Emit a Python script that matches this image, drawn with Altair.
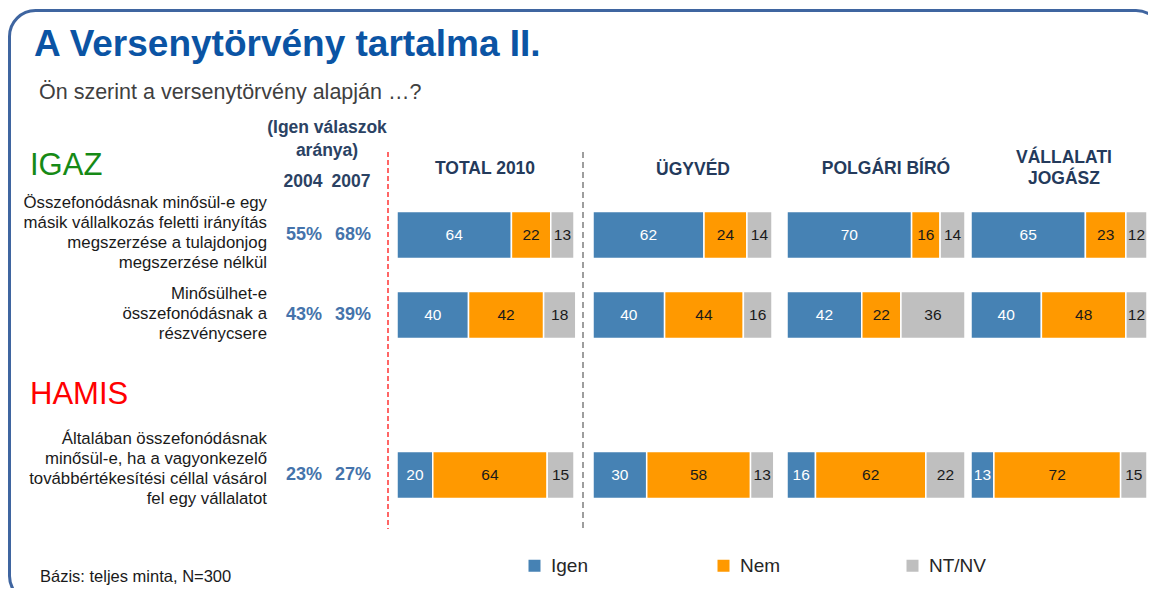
import altair as alt
import pandas as pd

# ---------------- data ----------------
panels = ["TOTAL 2010", "ÜGYVÉD", "POLGÁRI BÍRÓ", "VÁLLALATI\nJOGÁSZ"]
answers = ["Igen", "Nem", "NT/NV"]
row_pos = [0, 1, 3]
questions = [
    "Összefonódásnak minősül-e egy\nmásik vállalkozás feletti irányítás\nmegszerzése a tulajdonjog\nmegszerzése nélkül",
    "Minősülhet-e\nösszefonódásnak a\nrészvénycsere",
    "Általában összefonódásnak\nminősül-e, ha a vagyonkezelő\ntovábbértékesítési céllal vásárol\nfel egy vállalatot",
]
pct_2004 = ["55%", "43%", "23%"]
pct_2007 = ["68%", "39%", "27%"]
# per panel, per row
igen = [[64, 40, 20], [62, 40, 30], [70, 42, 16], [65, 40, 13]]
nem = [[22, 42, 64], [24, 44, 58], [16, 22, 62], [23, 48, 72]]
ntnv = [[13, 18, 15], [14, 16, 13], [14, 36, 22], [12, 12, 15]]

title_text = "A Versenytörvény tartalma II."
subtitle_text = "Ön szerint a versenytörvény alapján …?"
igaz_text = "IGAZ"
hamis_text = "HAMIS"
hdr_text = "(Igen válaszok\naránya)"
years = ["2004", "2007"]
footnote = "Bázis: teljes minta, N=300"

# ---------------- build tables ----------------
vals = {"Igen": igen, "Nem": nem, "NT/NV": ntnv}
recs = []
for pi, p in enumerate(panels):
    for ri, pos in enumerate(row_pos):
        for ai, a in enumerate(answers):
            recs.append({"panel": p, "pos": pos, "answer": a, "order": ai,
                         "value": vals[a][pi][ri]})
df = pd.DataFrame(recs)
qdf = pd.DataFrame({"pos": row_pos, "q": questions, "p04": pct_2004, "p07": pct_2007,
                    "qi": list(range(len(questions)))})

# ---------------- layout ----------------
OX, OY = 8, 9  # page position of plot origin
FONT = "Liberation Sans"
BLUE, ORANGE, GRAY = "#4682B4", "#FF9900", "#BFBFBF"
NAVY = "#243A5B"


def px(x):
    return x - OX


def py(y):
    return y - OY


yscale = alt.Scale(domain=[0, 3], range=[py(235), py(475)], zero=False, nice=False, padding=0)
color_scale = alt.Scale(domain=answers, range=[BLUE, ORANGE, GRAY])
legend = alt.Legend(orient="none", legendX=px(525), legendY=py(556), direction="horizontal",
                    title=None, symbolType="square", symbolSize=144, symbolStrokeWidth=0,
                    labelFontSize=19, labelFont=FONT, labelColor="#262626", labelOffset=7,
                    columnPadding=106, gridAlign="all", padding=0)

panel_ranges = [(397, 575.8), (593, 772), (787, 965), (971, 1147)]
header_pos = [(485, 169), (693, 170), (886, 169), (1064, 158)]
q_shift = [-2, -1, -6]  # vertical nudge of each question block (px)
LINE_H = 20

layers = []


def txt(text, x, y, size, color, bold=False, align="left", lh=None):
    kw = dict(fontSize=size, font=FONT, color=color, align=align, baseline="middle",
              fontWeight="bold" if bold else "normal", lineBreak="\n")
    if lh:
        kw["lineHeight"] = lh
    return alt.Chart(pd.DataFrame({"t": [text]})).mark_text(**kw).encode(
        x=alt.value(px(x)), y=alt.value(py(y)), text="t:N")


# border frame (clipped to the chart area)
layers.append(alt.Chart(pd.DataFrame({"a": [0]})).mark_rect(
    filled=False, stroke="#3F65A0", strokeWidth=3, cornerRadius=26, clip=True).encode(
    x=alt.value(px(9.5)), x2=alt.value(px(1162)), y=alt.value(py(10.5)),
    y2=alt.value(py(602))))

# bar panels
for pi, p in enumerate(panels):
    xs = alt.Scale(domain=[0, 100], range=[px(v) for v in panel_ranges[pi]],
                   zero=False, nice=False, padding=0)
    base = alt.Chart(df).transform_filter(alt.datum.panel == p).transform_stack(
        stack="value", groupby=["pos"], as_=["x0", "x1"], sort=[alt.SortField("order")])
    bars = base.mark_bar(size=47, stroke="white", strokeWidth=1.5).encode(
        x=alt.X("x0:Q", scale=xs, axis=None),
        x2="x1:Q",
        y=alt.Y("pos:Q", scale=yscale, axis=None),
        color=alt.Color("answer:N", scale=color_scale, legend=legend),
    )
    labels = base.transform_calculate(mid="(datum.x0 + datum.x1) / 2").mark_text(
        font=FONT, fontSize=15.5, baseline="middle", align="center").encode(
        x=alt.X("mid:Q", scale=xs, axis=None),
        y=alt.Y("pos:Q", scale=yscale, axis=None),
        text="value:Q",
        color=alt.condition(alt.datum.answer == "Igen", alt.value("white"), alt.value("#1A1A1A")),
    )
    layers.append(alt.layer(bars, labels))
    hx, hy = header_pos[pi]
    layers.append(txt(p, hx, hy, 17.5, NAVY, bold=True, align="center", lh=21))

# dashed separators
layers.append(alt.Chart(pd.DataFrame({"a": [0]})).mark_rule(
    color="#FF0000", strokeWidth=1.2, strokeDash=[5, 3]).encode(
    x=alt.value(px(388)), y=alt.value(py(152)), y2=alt.value(py(529))))
layers.append(alt.Chart(pd.DataFrame({"a": [0]})).mark_rule(
    color="#7F7F7F", strokeWidth=1.5, strokeDash=[6, 4]).encode(
    x=alt.value(px(583)), y=alt.value(py(152)), y2=alt.value(py(529))))

# questions (multi-line, centred on their row)
for qi, q in enumerate(questions):
    n_lines = q.count("\n") + 1
    layers.append(alt.Chart(qdf).transform_filter(alt.datum.qi == qi).mark_text(
        font=FONT, fontSize=16.8, align="right", baseline="middle", lineBreak="\n",
        lineHeight=LINE_H, dy=-(n_lines - 1) * LINE_H / 2 + q_shift[qi], color="#1A1A1A").encode(
        x=alt.value(px(267)), y=alt.Y("pos:Q", scale=yscale, axis=None), text="q:N"))

# percentages
for col, cx in (("p04", 304), ("p07", 353)):
    layers.append(alt.Chart(qdf).mark_text(font=FONT, fontSize=18, fontWeight="bold",
                                           align="center", baseline="middle",
                                           color="#4573AB").encode(
        x=alt.value(px(cx)), y=alt.Y("pos:Q", scale=yscale, axis=None), text=f"{col}:N"))

# texts
layers.append(txt(title_text, 34, 45, 37, "#0B54A4", bold=True))
layers.append(txt(subtitle_text, 39, 93, 21.5, "#404040"))
layers.append(txt(igaz_text, 30, 166, 31, "#168A16"))
layers.append(txt(hamis_text, 30, 395, 31, "#FF0000"))
layers.append(txt(hdr_text, 327, 128, 17.5, "#2B4263", bold=True, align="center", lh=23))
layers.append(txt(years[0], 303, 182, 17.5, "#2B4263", bold=True, align="center"))
layers.append(txt(years[1], 351, 182, 17.5, "#2B4263", bold=True, align="center"))
layers.append(txt(footnote, 40, 577, 16.5, "#1A1A1A"))

chart = alt.layer(*layers).resolve_scale(x="independent").properties(
    width=1140, height=579,
    autosize=alt.AutoSizeParams(type="none"),
    padding={"left": 0, "top": 1, "right": 0, "bottom": 0},
    background="white",
).configure_view(stroke=None)

chart.save("out.html", embed_options={"renderer": "svg", "actions": False})
